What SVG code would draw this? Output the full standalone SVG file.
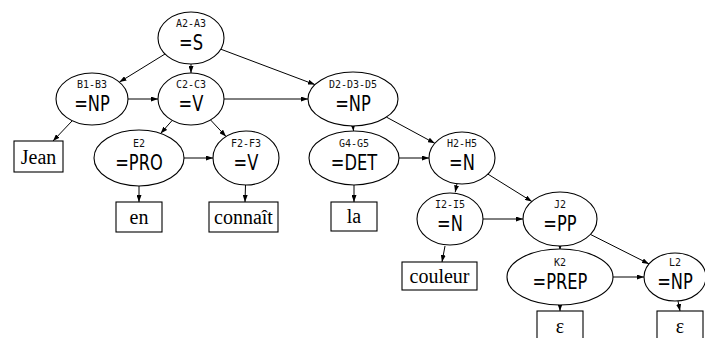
<svg xmlns="http://www.w3.org/2000/svg" width="705" height="338" viewBox="0 0 705 338">
<style>
.n ellipse{fill:#fff;stroke:#000;stroke-width:1.1}
.n rect{fill:#fff;stroke:#000;stroke-width:1.1}
.s{font-family:"DejaVu Sans Mono",monospace;font-size:10px;fill:#111;text-anchor:middle}
.m{font-family:"DejaVu Sans",sans-serif;font-size:22px;fill:#000;text-anchor:middle}
.w{font-family:"Liberation Serif",serif;font-size:20px;fill:#000;text-anchor:middle}
#edges line{stroke:#000;stroke-width:1;marker-end:url(#ah)}
</style>
<defs>
<marker id="ah" markerUnits="userSpaceOnUse" markerWidth="7" markerHeight="5" refX="7" refY="2.5" orient="auto"><path d="M0,0 L7,2.5 L0,5 z" fill="#000"/></marker>
</defs>
<rect width="705" height="338" fill="#fff"/>
<g id="edges">
<line x1="165" y1="54" x2="119.4" y2="82.1"/>
<line x1="191" y1="64" x2="191" y2="73"/>
<line x1="220.8" y1="49.2" x2="314.9" y2="84.6"/>
<line x1="128" y1="99" x2="158" y2="99"/>
<line x1="224" y1="99" x2="308" y2="99"/>
<line x1="72" y1="121" x2="53" y2="141"/>
<line x1="172.2" y1="120.4" x2="160.6" y2="133.5"/>
<line x1="210.5" y1="119.9" x2="226" y2="136.5"/>
<line x1="184" y1="158" x2="213" y2="158"/>
<line x1="139" y1="186" x2="139" y2="202"/>
<line x1="245.5" y1="185" x2="245" y2="202"/>
<line x1="353" y1="126" x2="353.5" y2="131"/>
<line x1="386.4" y1="117.1" x2="434.8" y2="143.3"/>
<line x1="399" y1="158" x2="429" y2="158"/>
<line x1="354" y1="185" x2="354" y2="202"/>
<line x1="457" y1="183.7" x2="455.2" y2="192.3"/>
<line x1="487.9" y1="174.1" x2="531.9" y2="201.5"/>
<line x1="483" y1="219" x2="523" y2="219"/>
<line x1="445" y1="246" x2="442" y2="262"/>
<line x1="560" y1="246" x2="560" y2="250"/>
<line x1="590.4" y1="234.4" x2="649" y2="263.9"/>
<line x1="613" y1="277" x2="644" y2="277"/>
<line x1="560" y1="305" x2="560" y2="311"/>
<line x1="678" y1="301" x2="680" y2="311"/>
</g>
<g id="S" class="n"><ellipse cx="191" cy="38" rx="33" ry="26"/><text class="s" x="191" y="27">A2-A3</text><text class="m" transform="translate(191,50) scale(0.74,1)">=S</text></g>
<g id="B1" class="n"><ellipse cx="92" cy="99" rx="36" ry="26"/><text class="s" x="92" y="88">B1-B3</text><text class="m" transform="translate(92,111) scale(0.74,1)">=NP</text></g>
<g id="C2" class="n"><ellipse cx="191" cy="99" rx="33" ry="26"/><text class="s" x="191" y="88">C2-C3</text><text class="m" transform="translate(191,111) scale(0.74,1)">=V</text></g>
<g id="D2" class="n"><ellipse cx="353" cy="99" rx="45" ry="27"/><text class="s" x="353" y="88">D2-D3-D5</text><text class="m" transform="translate(353,111) scale(0.74,1)">=NP</text></g>
<g id="Jean" class="n"><rect x="14" y="141" width="49" height="31"/><text class="w" x="38.5" y="164">Jean</text></g>
<g id="E2" class="n"><ellipse cx="139" cy="158" rx="45" ry="28"/><text class="s" x="139" y="147">E2</text><text class="m" transform="translate(139,170) scale(0.74,1)">=PRO</text></g>
<g id="F2" class="n"><ellipse cx="246" cy="158" rx="33" ry="27"/><text class="s" x="246" y="147">F2-F3</text><text class="m" transform="translate(246,170) scale(0.74,1)">=V</text></g>
<g id="G4" class="n"><ellipse cx="354" cy="158" rx="45" ry="27"/><text class="s" x="354" y="147">G4-G5</text><text class="m" transform="translate(354,170) scale(0.74,1)">=DET</text></g>
<g id="H2" class="n"><ellipse cx="462" cy="158" rx="33" ry="26"/><text class="s" x="462" y="147">H2-H5</text><text class="m" transform="translate(462,170) scale(0.74,1)">=N</text></g>
<g id="en" class="n"><rect x="116" y="202" width="46" height="30"/><text class="w" x="139" y="224">en</text></g>
<g id="connait" class="n"><rect x="209" y="202" width="69" height="30"/><text class="w" x="243.5" y="224">connaît</text></g>
<g id="la" class="n"><rect x="331" y="202" width="46" height="29"/><text class="w" x="354" y="223">la</text></g>
<g id="I2" class="n"><ellipse cx="450" cy="219" rx="33" ry="26"/><text class="s" x="450" y="208">I2-I5</text><text class="m" transform="translate(450,231) scale(0.74,1)">=N</text></g>
<g id="J2" class="n"><ellipse cx="560" cy="219" rx="37" ry="27"/><text class="s" x="560" y="208">J2</text><text class="m" transform="translate(560,231) scale(0.74,1)">=PP</text></g>
<g id="couleur" class="n"><rect x="402" y="262" width="75" height="28"/><text class="w" x="439.5" y="283">couleur</text></g>
<g id="K2" class="n"><ellipse cx="560" cy="277" rx="53" ry="28"/><text class="s" x="560" y="266">K2</text><text class="m" transform="translate(560,289) scale(0.74,1)">=PREP</text></g>
<g id="L2" class="n"><ellipse cx="675" cy="277" rx="31" ry="24"/><text class="s" x="675" y="266">L2</text><text class="m" transform="translate(675,289) scale(0.74,1)">=NP</text></g>
<g id="eps1" class="n"><rect x="537" y="311" width="46" height="32"/><text class="w" x="560" y="333">ε</text></g>
<g id="eps2" class="n"><rect x="657" y="311" width="46" height="32"/><text class="w" x="680" y="333">ε</text></g>
</svg>
